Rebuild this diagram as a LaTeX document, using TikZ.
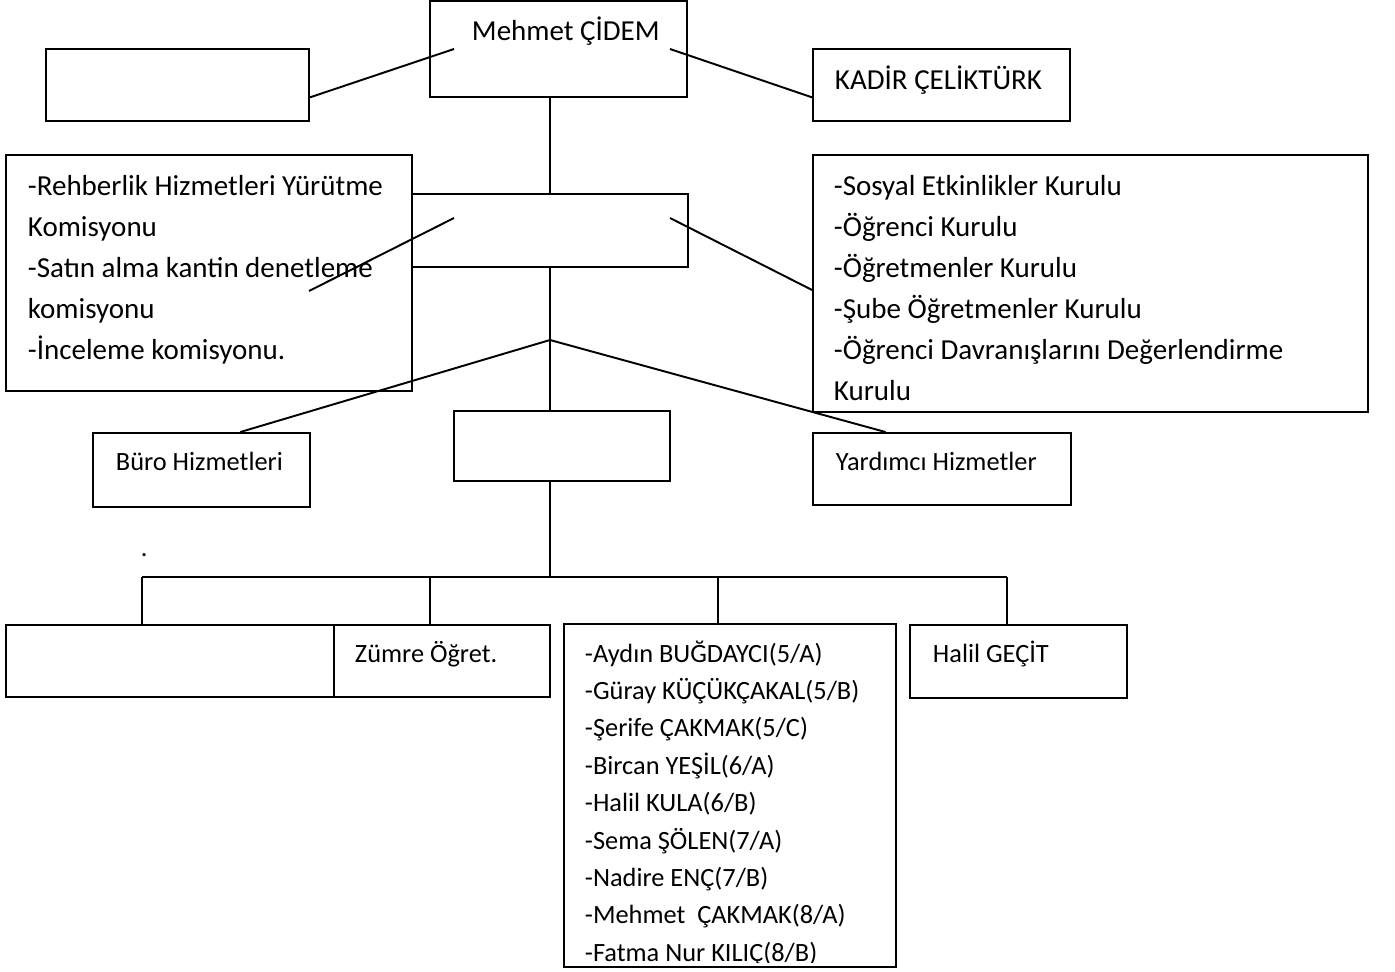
\documentclass[tikz,border=0pt]{standalone}
\usepackage{fontspec}
\setmainfont{Carlito}
\usetikzlibrary{fit,calc}

\begin{document}
\begin{tikzpicture}[x=0.02cm, y=-0.02cm, line width=1.1pt,
		box/.style={draw, inner sep=0pt, fit={#1}},
		big/.style={font=\fontsize{16.5}{20}\selectfont, anchor=base west, inner sep=0pt},
		small/.style={font=\fontsize{15}{18}\selectfont, anchor=base west, inner sep=0pt}]
		
		\useasboundingbox (0,0) rectangle (1395,971);
		
		% top row
		\node[box={(430,1) (687,97)}] (mudur) {};
		\node[big] (mudurT) at (471,40) {Mehmet ÇİDEM};
		\node[box={(46,49) (309,121)}] (yardA) {};
		\node[box={(813,49) (1070,121)}] (yardB) {};
		\node[big] (yardBT) at (834,89) {KADİR ÇELİKTÜRK};
		
		% second row
		\node[box={(6,155) (412,391)}] (komisyon) {};
		\foreach \t [count=\i] in {-Rehberlik Hizmetleri Yürütme, Komisyonu, -Satın alma kantin denetleme, komisyonu, -İnceleme komisyonu.}{
			\node[big] (kom\i) at (27,{154+41*\i}) {\t};
		}
		\node[box={(412,194) (688,267)}] (kurul) {};
		\node[box={(813,155) (1368,412)}] (kurullar) {};
		\foreach \t [count=\i] in {-Sosyal Etkinlikler Kurulu, -Öğrenci Kurulu, -Öğretmenler Kurulu, -Şube Öğretmenler Kurulu, -Öğrenci Davranışlarını Değerlendirme, Kurulu}{
			\node[big] (kur\i) at (833,{154+41*\i}) {\t};
		}
		
		% inner ends of the slanted lines
		\coordinate (mL) at (454,49);
		\coordinate (mR) at (670,49);
		\coordinate (kL) at (454,218);
		\coordinate (kR) at (670,218);
		\coordinate (kE) at (309,291);
		\coordinate (dal) at (550,340);
		
		\draw (mL) -- ($(yardA.north east)!0.667!(yardA.south east)$);
		\draw (mR) -- ($(yardB.north west)!0.667!(yardB.south west)$);
		\draw (kL) -- (kE);
		\draw (kR) -- ($(kurullar.north west)!0.525!(kurullar.south west)$);
		\draw (kurul.north) -- (kurul.north |- mudur.south);
		
		% third row
		\node[box={(93,433) (310,507)}] (buro) {};
		\node[small] (buroT) at (115,470) {Büro Hizmetleri};
		\node[box={(454,411) (670,481)}] (merkez) {};
		\node[box={(813,433) (1071,505)}] (yrd) {};
		\node[small] (yrdT) at (835,470) {Yardımcı Hizmetler};
		
		\draw (kurul.south) -- (kurul.south |- merkez.north);
		\draw (dal) -- ($(buro.north west)!0.677!(buro.north east)$);
		\draw (dal) -- ($(yrd.north west)!0.283!(yrd.north east)$);
		
		\node[small] (nokta) at (140,556) {.};
		
		% bottom row
		\node[box={(6,625) (334,697)}] (alt) {};
		\node[box={(334,625) (550,697)}] (zumre) {};
		\node[small] (zumreT) at (354,662) {Zümre Öğret.};
		\node[box={(564,624) (896,967)}] (sube) {};
		\node[box={(910,625) (1127,698)}] (halil) {};
		\node[small] (halilT) at (932,662) {Halil GEÇİT};
		
		\coordinate (bus) at (kurul.south |- 0,577);
		\draw (kurul.south |- merkez.south) -- (bus);
		\foreach \x/\n in {142/d1, 430/d2, 718/d3, 1007/d4}{
			\coordinate (\n) at (\x,577);
			\draw (\n) -- (\n |- alt.north);
		}
		\draw (d1) -- (d4);
		
		% class teachers, last line cut off
		\begin{scope}
			\clip (564,624) rectangle (896,962);
			\foreach \t [count=\i] in {-Aydın BUĞDAYCI(5/A), -Güray KÜÇÜKÇAKAL(5/B), -Şerife ÇAKMAK(5/C), -Bircan YEŞİL(6/A), -Halil KULA(6/B), -Sema ŞÖLEN(7/A), -Nadire ENÇ(7/B), -Mehmet\ \ ÇAKMAK(8/A), -Fatma Nur KILIÇ(8/B)}{
				\node[small] (ogr\i) at (584,{624.6+37.4*\i}) {\t};
			}
		\end{scope}
		
	\end{tikzpicture}
\end{document}
